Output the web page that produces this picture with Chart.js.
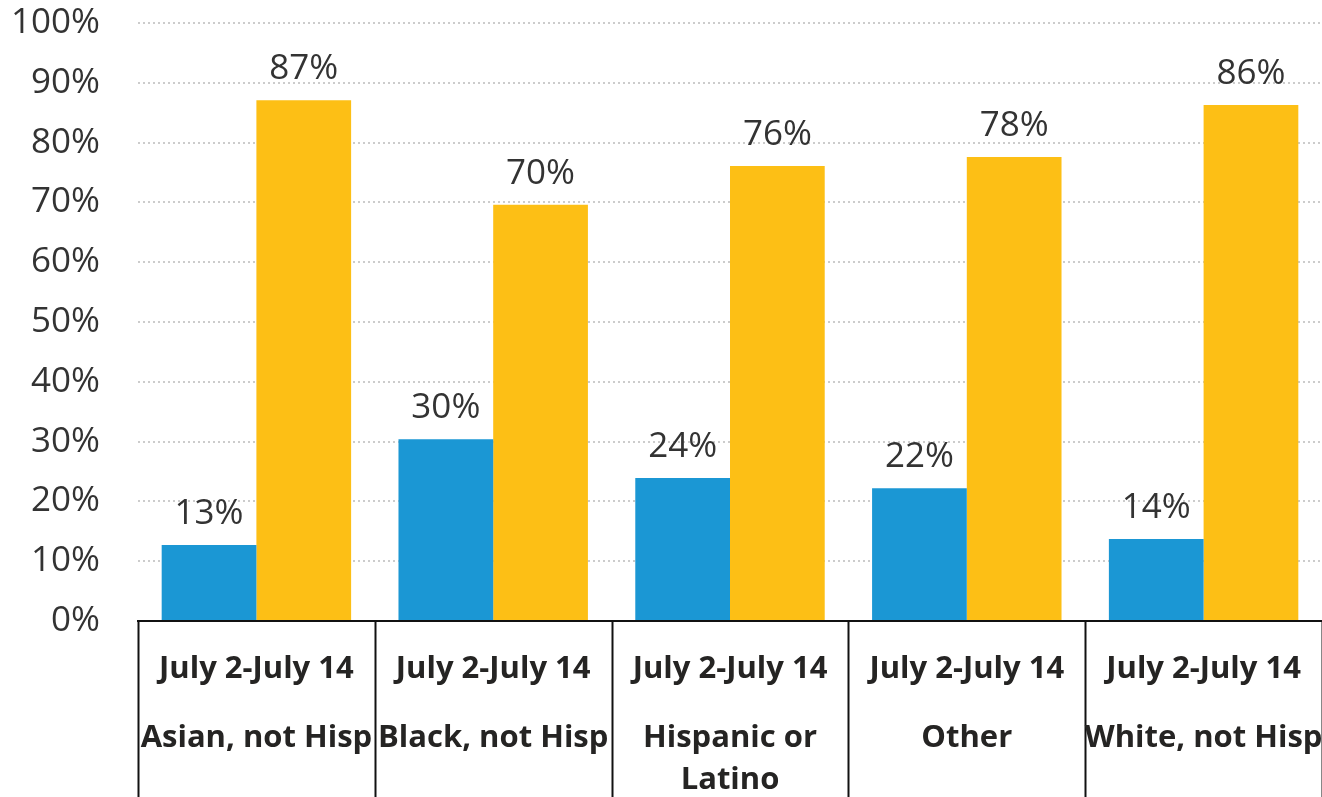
<!DOCTYPE html>
<html>
<head>
<meta charset="utf-8">
<script src="https://cdn.jsdelivr.net/npm/chart.js@4/dist/chart.umd.min.js"></script>
<style>
    body { margin: 0; background: #fff; }
    #wrap { width: 1322px; height: 797px; }
</style>
</head>
<body>
<div id="wrap"><canvas id="myChart" width="1322" height="797"></canvas></div>
<script>
// data
const periods = ['July 2-July 14', 'July 2-July 14', 'July 2-July 14', 'July 2-July 14', 'July 2-July 14'];
const groups = [['Asian, not Hisp'], ['Black, not Hisp'], ['Hispanic or', 'Latino'], ['Other'], ['White, not Hisp']];
const seriesBlue = [12.7, 30.4, 23.9, 22.2, 13.7];
const seriesYellow = [87.1, 69.6, 76.1, 77.6, 86.3];
const yTicks = [0, 10, 20, 30, 40, 50, 60, 70, 80, 90, 100];

const FONT = '"Open Sans", "Noto Sans", sans-serif';

// labels on top of bars
const barLabels = {
    id: 'barLabels',
    afterDatasetsDraw(chart) {
        const ctx = chart.ctx;
        ctx.save();
        ctx.font = '35px ' + FONT;
        ctx.fillStyle = '#333333';
        ctx.textAlign = 'center';
        ctx.textBaseline = 'alphabetic';
        chart.data.datasets.forEach((ds, i) => {
            chart.getDatasetMeta(i).data.forEach((bar, j) => {
                ctx.fillText(Math.round(ds.data[j]) + '%', bar.x, bar.y - 21);
            });
        });
        ctx.restore();
    }
};

// two level category axis with separators
const groupAxis = {
    id: 'groupAxis',
    afterDraw(chart) {
        const ctx = chart.ctx;
        const xs = chart.scales.x;
        const area = chart.chartArea;
        const n = periods.length;
        const step = (area.right - area.left) / n;
        ctx.save();
        ctx.strokeStyle = '#111111';
        ctx.lineWidth = 2;
        for (let i = 0; i <= n; i++) {
            const x = Math.round(area.left + step * i) + 0.5;
            ctx.beginPath();
            ctx.moveTo(x, area.bottom);
            ctx.lineTo(x, chart.height);
            ctx.stroke();
        }
        ctx.fillStyle = '#252423';
        ctx.font = 'bold 31px ' + FONT;
        ctx.textAlign = 'center';
        ctx.textBaseline = 'middle';
        periods.forEach((p, i) => {
            const cx = xs.getPixelForValue(i);
            ctx.fillText(p, cx, area.bottom + 48);
            groups[i].forEach((g, k) => {
                ctx.fillText(g, cx, area.bottom + 117 + k * 42);
            });
        });
        ctx.restore();
    }
};

const ctx = document.getElementById('myChart');
const myChart = new Chart(ctx, {
    type: 'bar',
    data: {
        labels: periods.map((p, i) => p + ' ' + groups[i].join(' ')),
        datasets: [
            {
                data: seriesBlue,
                backgroundColor: '#1B97D4',
                categoryPercentage: 0.8,
                barPercentage: 1.0
            },
            {
                data: seriesYellow,
                backgroundColor: '#FDBF15',
                categoryPercentage: 0.8,
                barPercentage: 1.0
            }
        ]
    },
    options: {
        responsive: false,
        animation: false,
        layout: { autoPadding: false, padding: { top: 23, right: -2, left: 0, bottom: 0 } },
        plugins: {
            legend: { display: false },
            tooltip: { enabled: false }
        },
        scales: {
            x: {
                grid: { display: false },
                border: { color: '#111111', width: 2 },
                ticks: { display: false },
                afterFit(scale) { scale.height = 176; }
            },
            y: {
                min: 0,
                max: 100,
                afterBuildTicks(scale) { scale.ticks = yTicks.map(v => ({ value: v })); },
                afterFit(scale) {
                    scale.width = 138;
                    scale.paddingTop = 0;
                    scale.paddingBottom = 0;
                },
                border: { display: false, dash: [2, 3] },
                grid: { color: '#CCCCCC', lineWidth: 2, drawTicks: false },
                ticks: {
                    padding: 38,
                    color: '#333333',
                    font: { size: 35, family: FONT },
                    callback: v => v + '%'
                }
            }
        }
    },
    plugins: [barLabels, groupAxis]
});
</script>
</body>
</html>
